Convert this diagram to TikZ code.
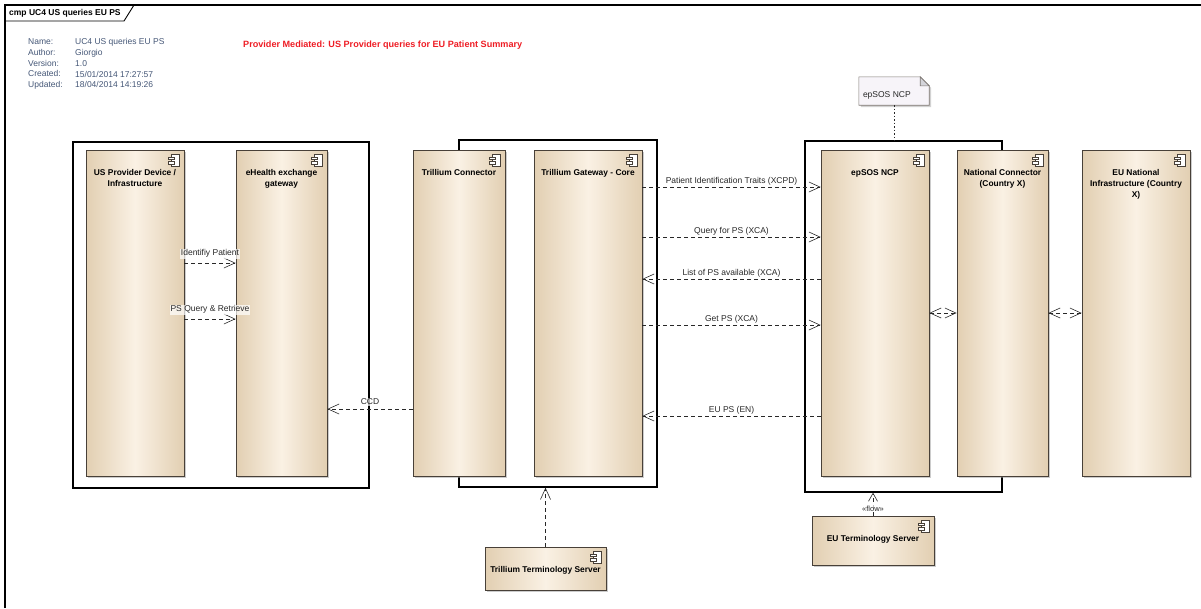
\documentclass[tikz,border=0pt]{standalone}
\usepackage{fontspec}
\setmainfont{Liberation Sans}
\usepackage{tikz}
\usetikzlibrary{arrows.meta,positioning,shadows}
\definecolor{ucedge}{RGB}{72,64,56}
\definecolor{ucside}{RGB}{226,207,178}
\definecolor{ucmid}{RGB}{250,241,228}
\definecolor{ucmeta}{RGB}{68,86,118}
\definecolor{ucred}{RGB}{238,28,36}
\definecolor{ucnote}{RGB}{247,244,249}
\definecolor{ucfold}{RGB}{212,212,218}
\definecolor{ucink}{RGB}{40,40,40}
\tikzset{
  comp/.style={
    draw=ucedge, line width=0.8pt, inner sep=0pt,
    left color=ucside, right color=ucside, middle color=ucmid,
    drop shadow={shadow xshift=2.2pt, shadow yshift=-2.2pt, fill=black!40, opacity=0.5}
  },
  ctitle/.style={
    inner sep=0pt, align=center, text=black,
    font=\fontsize{8.4}{10.8}\selectfont\bfseries
  },
  grp/.style={draw=black, line width=1.3pt, inner sep=0pt},
  lnk/.style={draw=ucink, line width=0.6pt, dash pattern=on 4pt off 3pt},
  flow/.style={lnk, -{Straight Barb[length=11pt,width=10pt]}},
  flowboth/.style={lnk, {Straight Barb[length=11pt,width=10pt]}-{Straight Barb[length=11pt,width=10pt]}},
  lbl/.style={
    font=\fontsize{8.5}{10}\selectfont, text=ucink, inner sep=1pt,
    fill=white, fill opacity=0.7, text opacity=1
  },
  meta/.style={font=\fontsize{8.5}{10.75}\selectfont, text=ucmeta, align=left, inner sep=0pt},
  notebox/.style={minimum width=70pt, minimum height=28pt, inner sep=0pt},
  compicon/.pic={
    \draw[ucedge, line width=0.7pt, fill=white] (3,0) rectangle (11,12);
    \draw[ucedge, line width=0.7pt, fill=white] (0,2.5) rectangle (6,5);
    \draw[ucedge, line width=0.7pt, fill=white] (0,7) rectangle (6,9.5);
  }
}

\begin{document}
\begin{tikzpicture}[x=1pt, y=-1pt]
  \useasboundingbox (0,0) rectangle (1201,608);

  % diagram frame and tab
  \draw[line width=1.2pt] (5,608) -- (5,5) -- (1201,5);
  \draw[line width=0.9pt] (5,21) -- (124,21) -- (134,5);
  \node[inner sep=0pt, anchor=west, font=\fontsize{8.5}{10}\selectfont\bfseries]
    (frametitle) at (9,13.5) {cmp UC4 US queries EU PS};

  % header
  \node[meta, anchor=north west] (metakeys) at (28,38.5)
    {Name:\\Author:\\Version:\\Created:\\Updated:};
  \node[meta, anchor=north west] (metavals) at (75,38.5)
    {UC4 US queries EU PS\\Giorgio\\1.0\\15/01/2014 17:27:57\\18/04/2014 14:19:26};
  \node[inner sep=0pt, anchor=west, text=ucred, font=\fontsize{9.1}{11}\selectfont\bfseries]
    (title) at (243,45) {Provider Mediated: US Provider queries for EU Patient Summary};

  % groups
  \node[grp, minimum width=296pt, minimum height=346pt] (gUS) at (221,315) {};
  \node[grp, minimum width=198pt, minimum height=347pt] (gTR) at (558,313.5) {};
  \node[grp, minimum width=197pt, minimum height=351pt] (gEU) at (903.5,316.5) {};

  % components
  \node[comp, minimum width=98pt, minimum height=326pt] (usp) at (135,313) {};
  \node[comp, minimum width=91pt, minimum height=326pt] (ehg) at (281.5,313) {};
  \node[comp, minimum width=92pt, minimum height=326pt] (tcon) at (459,313) {};
  \node[comp, minimum width=108pt, minimum height=326pt] (tgw) at (588,313) {};
  \node[comp, minimum width=108pt, minimum height=326pt] (ncp) at (875,313) {};
  \node[comp, minimum width=91pt, minimum height=326pt] (nco) at (1002.5,313) {};
  \node[comp, minimum width=108pt, minimum height=326pt] (eun) at (1136,313) {};
  \node[comp, minimum width=121pt, minimum height=43pt] (tts) at (545.5,568.5) {};
  \node[comp, minimum width=122pt, minimum height=49pt] (ets) at (873,540.5) {};

  \foreach \c in {usp,ehg,tcon,tgw,ncp,nco,eun,tts,ets}
    \pic at ([xshift=-16pt,yshift=-5pt]\c.north east) {compicon};

  \node[ctitle, below=20pt of usp.north] {US Provider Device /\\Infrastructure};
  \node[ctitle, below=20pt of ehg.north] {eHealth exchange\\gateway};
  \node[ctitle, below=20pt of tcon.north] {Trillium Connector};
  \node[ctitle, below=20pt of tgw.north] {Trillium Gateway - Core};
  \node[ctitle, below=20pt of ncp.north] {epSOS NCP};
  \node[ctitle, below=20pt of nco.north] {National Connector\\(Country X)};
  \node[ctitle, below=20pt of eun.north] {EU National\\Infrastructure (Country\\X)};
  \node[ctitle, below=20pt of tts.north] {Trillium Terminology Server};
  \node[ctitle, below=20pt of ets.north] {EU Terminology Server};

  % note
  \node[notebox] (note) at (894,91) {};
  \fill[black!35, opacity=0.5] ([shift={(2pt,-2pt)}]note.north west)
    -- ([shift={(-7pt,-2pt)}]note.north east) -- ([shift={(2pt,-11pt)}]note.north east)
    -- ([shift={(2pt,-2pt)}]note.south east) -- ([shift={(2pt,-2pt)}]note.south west) -- cycle;
  \draw[ucedge!70, line width=0.6pt, fill=ucnote] (note.north west)
    -- ([xshift=-9pt]note.north east) -- ([yshift=-9pt]note.north east)
    -- (note.south east) -- (note.south west) -- cycle;
  \draw[ucedge!70, line width=0.6pt, fill=ucfold] ([xshift=-9pt]note.north east)
    -- ([xshift=-9pt,yshift=-9pt]note.north east) -- ([yshift=-9pt]note.north east) -- cycle;
  \node[lbl, fill=none, anchor=west] (notetext) at ([xshift=3pt,yshift=-4pt]note.west) {epSOS NCP};
  \draw[ucink, line width=0.6pt, dash pattern=on 1.5pt off 2pt] (note.south) -- (note.south |- gEU.north);

  % flows inside US side
  \draw[flow] ([yshift=50pt]usp.east) -- ([yshift=50pt]ehg.west)
    node[lbl, midway, above=4pt] {Identifiy Patient};
  \draw[flow] ([yshift=-6pt]usp.east) -- ([yshift=-6pt]ehg.west)
    node[lbl, midway, above=4pt] {PS Query \& Retrieve};
  \draw[flow] ([yshift=-96pt]tcon.west) -- ([yshift=-96pt]ehg.east)
    node[lbl, midway, above=3pt] {CCD};

  % flows to and from the NCP
  \draw[flow] ([yshift=126pt]tgw.east) -- ([yshift=126pt]ncp.west)
    node[lbl, midway, above] {Patient Identification Traits (XCPD)};
  \draw[flow] ([yshift=76pt]tgw.east) -- ([yshift=76pt]ncp.west)
    node[lbl, midway, above] {Query for PS (XCA)};
  \draw[flow] ([yshift=34pt]ncp.west) -- ([yshift=34pt]tgw.east)
    node[lbl, midway, above] {List of PS available (XCA)};
  \draw[flow] ([yshift=-12pt]tgw.east) -- ([yshift=-12pt]ncp.west)
    node[lbl, midway, above] {Get PS (XCA)};
  \draw[flow] ([yshift=-103pt]ncp.west) -- ([yshift=-103pt]tgw.east)
    node[lbl, midway, above] {EU PS (EN)};

  \draw[flowboth] (ncp.east) -- (nco.west);
  \draw[flowboth] (nco.east) -- (eun.west);

  % terminology servers
  \draw[flow] (tts.north) -- (tts.north |- gTR.south);
  \draw[lnk, -{Straight Barb[length=8pt,width=9pt]}] (ets.north) -- (ets.north |- gEU.south)
    node[lbl, pos=0.3, font=\fontsize{7.5}{9}\selectfont] {«flow»};
\end{tikzpicture}
\end{document}
